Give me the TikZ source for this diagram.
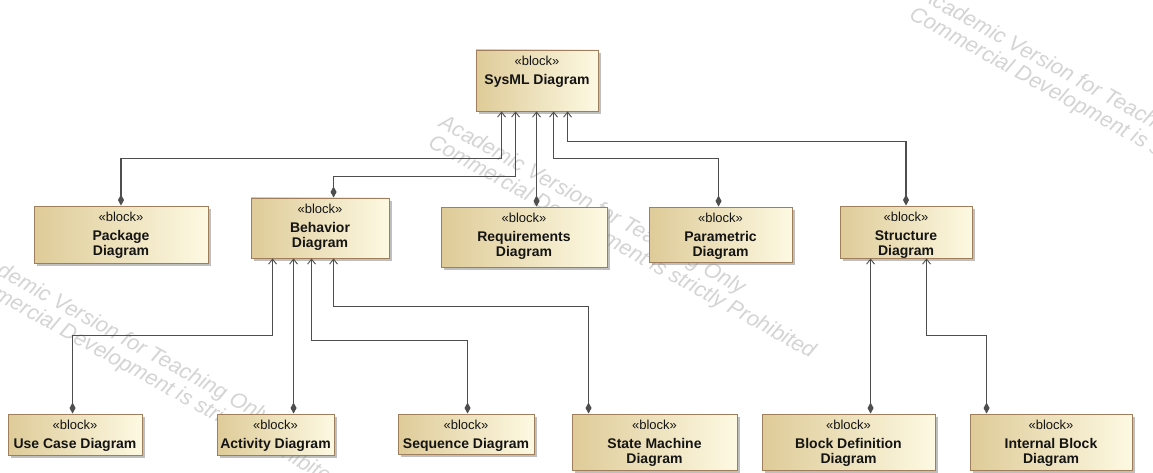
\documentclass[tikz,border=0pt]{standalone}
\usepackage{fontspec}
\setmainfont{Liberation Sans}
\usetikzlibrary{arrows.meta,calc,shadows}

\definecolor{blkL}{RGB}{222,203,152}
\definecolor{blkR}{RGB}{253,249,226}
\definecolor{blkB}{RGB}{160,126,92}
\definecolor{conn}{RGB}{78,78,78}
\definecolor{txt}{RGB}{20,20,20}
\definecolor{wmc}{RGB}{212,212,212}

% one SysML block: name, centre x, centre y, width, height, title
\newcommand\mkblock[6]{%
  \node[blk, minimum width=#4pt, minimum height=#5pt] (#1) at (#2,#3) {};
  \node[stereo] (#1-s) at ($(#1.north)+(0,15.5)$) {«block»};
  \node[bname] (#1-n) at ($(#1.north)+(0,23.5)$) {\rule{0pt}{11pt}#6};
}

\begin{document}
\begin{tikzpicture}[x=1pt,y=-1pt,
  blk/.style={draw=blkB, line width=0.9pt, left color=blkL, right color=blkR,
    inner sep=0pt,
    drop shadow={shadow xshift=3pt, shadow yshift=-3pt, fill=black!45, opacity=0.55}},
  stereo/.style={anchor=base, inner sep=0pt, text=txt,
    font=\fontsize{13}{15}\selectfont},
  bname/.style={anchor=north, inner sep=0pt, align=center, text=txt,
    font=\fontsize{14}{15}\selectfont\bfseries},
  comp/.style={draw=conn, line width=1.1pt,
    arrows={Diamond[length=11pt,width=6pt]-Straight Barb[length=5pt,width=8pt,line width=0.9pt]}},
  wm/.style={anchor=base west, inner sep=0pt, align=left, text=wmc, rotate=-29,
    font=\fontsize{21.5}{22}\selectfont\itshape}
]
\useasboundingbox (0,0) rectangle (1153,473);
\fill[white] (0,0) rectangle (1153,473);

% watermark, repeated (anchored at the start of its second line)
\node[wm] (wm1) at (427,146) {Academic Version for Teaching Only\\Commercial Development is strictly Prohibited};
\node[wm] (wm2) at (-47,276) {Academic Version for Teaching Only\\Commercial Development is strictly Prohibited};
\node[wm] (wm3) at (908,18) {Academic Version for Teaching Only\\Commercial Development is strictly Prohibited};

% blocks
\mkblock{sys}{537}{80.5}{122}{61}{SysML Diagram}
\mkblock{pk}{121}{234.5}{174}{57}{Package\\Diagram}
\mkblock{bh}{320}{228}{138}{60}{Behavior\\Diagram}
\mkblock{rq}{524}{237}{166}{60}{Requirements\\Diagram}
\mkblock{pm}{720.5}{234.5}{143}{55}{Parametric\\Diagram}
\mkblock{st}{906}{232}{132}{52}{Structure\\Diagram}
\mkblock{uc}{75}{434.5}{134}{41}{Use Case Diagram}
\mkblock{ac}{275.5}{434.5}{117}{41}{Activity Diagram}
\mkblock{sq}{466}{434}{136}{40}{Sequence Diagram}
\mkblock{sm}{654.5}{442}{165}{56}{State Machine\\Diagram}
\mkblock{bd}{848.5}{442}{173}{56}{Block Definition\\Diagram}
\mkblock{ib}{1051}{442}{162}{56}{Internal Block\\Diagram}

% composition connectors, part end (diamond) to whole end (open arrow)
\draw[comp] (pk.north) -- ++(0,-47) -| ($(sys.south west)+(26,0)$);
\draw[comp] ($(bh.north west)+(83,0)$) -- ++(0,-21) -| ($(sys.south west)+(40,0)$);
\draw[comp] ($(rq.north west)+(96,0)$) -- ($(sys.south west)+(61,0)$);
\draw[comp] ($(pm.north west)+(70,0)$) -- ++(0,-48) -| ($(sys.south west)+(78,0)$);
\draw[comp] (st.north) -- ++(0,-64) -| ($(sys.south west)+(92,0)$);

\draw[comp] ($(uc.north west)+(65,0)$) -- ++(0,-78) -| ($(bh.south west)+(22,0)$);
\draw[comp] ($(ac.north west)+(77,0)$) -- ($(bh.south west)+(43,0)$);
\draw[comp] ($(sq.north west)+(70,0)$) -- ++(0,-73) -| ($(bh.south west)+(61,0)$);
\draw[comp] ($(sm.north west)+(17,0)$) -- ++(0,-107) -| ($(bh.south west)+(83,0)$);

\draw[comp] ($(bd.north west)+(109,0)$) -- ($(st.south west)+(31,0)$);
\draw[comp] ($(ib.north west)+(17,0)$) -- ++(0,-78) -| ($(st.south west)+(87,0)$);
\end{tikzpicture}
\end{document}
